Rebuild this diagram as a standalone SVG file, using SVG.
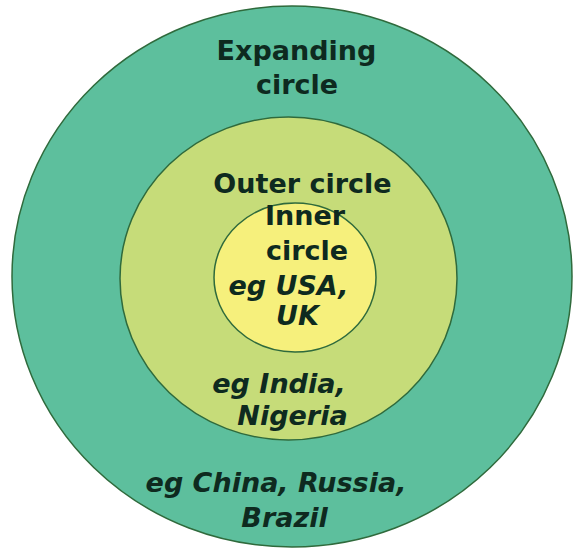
<svg xmlns="http://www.w3.org/2000/svg" width="574" height="550" viewBox="0 0 574 550">
  <style>
    .ring { stroke: #2f6a3c; stroke-width: 1.5; }
    .t { font-family: "DejaVu Sans", Verdana, sans-serif; font-weight: bold; font-size: 27px; fill: #0e2a1f; text-anchor: middle; }
    .i { font-style: italic; }
  </style>
  <rect width="574" height="550" fill="#ffffff"/>
  <g id="expanding-circle">
    <ellipse class="ring" cx="292" cy="276.5" rx="280" ry="270.5" fill="#5dbf9d"/>
    <text class="t" x="296.5" y="60">Expanding</text>
    <text class="t" x="297" y="94">circle</text>
    <text class="t i" x="276" y="492">eg China, Russia,</text>
    <text class="t i" x="284.5" y="527">Brazil</text>
  </g>
  <g id="outer-circle">
    <ellipse class="ring" cx="288.5" cy="278.5" rx="168.5" ry="161.5" fill="#c6dc79"/>
    <text class="t" x="302.5" y="193">Outer circle</text>
    <text class="t i" x="279" y="393">eg India,</text>
    <text class="t i" x="292.5" y="425">Nigeria</text>
  </g>
  <g id="inner-circle">
    <ellipse class="ring" cx="295" cy="277.5" rx="81" ry="74.5" fill="#f6f07c"/>
    <text class="t" x="305" y="225">Inner</text>
    <text class="t" x="307" y="260">circle</text>
    <text class="t i" x="288.5" y="295">eg USA,</text>
    <text class="t i" x="297.5" y="325">UK</text>
  </g>
  <g id="connectors"/>
</svg>
